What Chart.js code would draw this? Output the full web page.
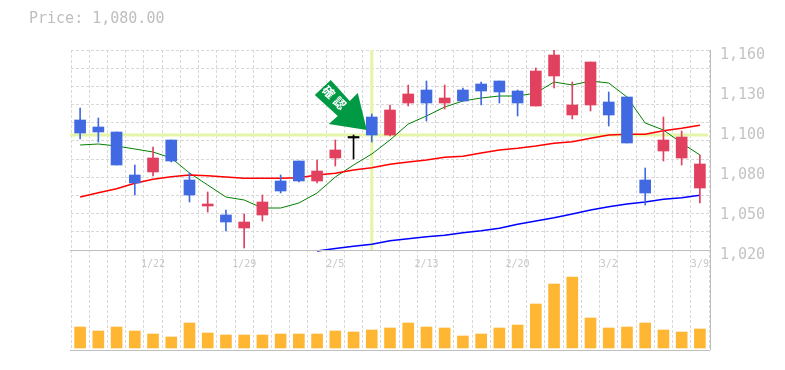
<!DOCTYPE html>
<html>
<head>
<meta charset="utf-8">
<style>body { margin: 0; background: #fff; }</style>
<script src="https://cdn.jsdelivr.net/npm/chart.js@4/dist/chart.umd.min.js"></script>
</head>
<body>
<canvas id="grafico" width="785" height="370"></canvas>
<script>
const xLabels = ["","","","","1/22","","","","","1/29","","","","","2/5","","","","","2/13","","","","","2/20","","","","","3/2","","","","","3/9"];
const open  = [1111,1106.1,1102.6,1072.5,1074.6,1097,1069,1050.8,1044.5,1035.4,1044.5,1068.3,1082.3,1068.3,1084.4,1098.4,1113.1,1100.5,1122.9,1132,1122.9,1132,1136.2,1138.3,1131.3,1120.8,1141.8,1114.5,1121.5,1123.6,1127.1,1069,1089.3,1084.4,1063.4];
const close = [1101.9,1102.6,1079.5,1066.9,1084.4,1082.3,1058.5,1052.2,1039.6,1039.6,1053.6,1061.3,1068.3,1075.3,1090,1098.4,1100.5,1118,1129.2,1122.9,1126.4,1124.3,1131.3,1130.6,1122.9,1145.3,1156.5,1121.5,1151.6,1114.5,1094.9,1059.9,1097,1099.1,1080.2];
const high  = [1119.4,1112.4,1102.6,1079.5,1092.1,1097,1073.9,1060.6,1048,1045.2,1058.5,1072.5,1082.3,1083,1097,1100.5,1115.2,1121.5,1135.5,1138.3,1135.5,1133.4,1137.6,1138.3,1132,1147.4,1160,1137.6,1151.6,1130.6,1127.1,1077.4,1113.1,1103.3,1086.5];
const low   = [1097.7,1095.6,1079.5,1058.5,1071.8,1081.6,1053.6,1046.6,1033.3,1021.4,1040.3,1059.9,1067.6,1066.9,1078.8,1083.7,1095.6,1099.8,1120.8,1110.3,1118.7,1124.3,1121.5,1122.9,1113.8,1120.8,1133.4,1111.7,1117.3,1106.8,1094.9,1051.5,1082.3,1079.5,1052.9];
const maCurta = [1093.5,1094.2,1092.8,1090.7,1088.6,1084.4,1073.9,1065.5,1057.1,1055,1049.4,1049.4,1052.9,1059.9,1071.1,1079.5,1087.2,1097,1108.2,1113.8,1120.1,1124.3,1126.4,1127.8,1127.8,1129.9,1137.6,1135.5,1138.3,1136.9,1127.1,1108.9,1104,1094.9,1086.5];
const maMedia = [1057.1,1060.1,1062.9,1066.7,1069.5,1071.3,1072.5,1072,1071.1,1070.2,1070.2,1070.2,1070.6,1072.5,1073.7,1076,1077.6,1080,1081.6,1083,1084.9,1085.6,1087.9,1090,1091.2,1092.8,1094.7,1095.8,1098.2,1100.5,1101,1101,1103.5,1105.2,1107.3];
const maLonga = [null,null,null,null,null,null,null,null,null,null,null,null,null,1019.3,1021,1022.6,1024,1026.5,1027.9,1029.3,1030.3,1032.1,1033.5,1035.2,1038,1040.3,1042.6,1045.2,1048,1050.3,1052.2,1053.6,1055.5,1056.6,1058.3];
const volume = [21,17,21,17,14,11,25,15,13,13,13,14,14,14,17,16,18,20,25,21,20,12,14,20,23,44,64,71,30,20,21,25,18,16,19];
const priceTicks = [1160,1132,1104,1076,1048,1020];
const priceLabels = ["1,160","1,130","1,100","1,080","1,050","1,020"];
const gridPrices = [1160,1147.27,1134.55,1121.82,1109.09,1096.36,1083.64,1070.91,1058.18,1045.45,1032.73,1020];
const titulo = "Price: 1,080.00";
const arrowText = ["確","認"];
const crossIndex = 16;
const crossPrice = 1100.5;

const AZUL = "#4169E1", VERMELHO = "#E2405F", PRETO = "#000000";
const cores = open.map((o, i) => o === close[i] ? PRETO : (close[i] > o ? VERMELHO : AZUL));

// crosshair, frame, arrow and price title
const extras = {
  id: "extras",
  beforeDatasetsDraw(chart) {
    const { ctx, chartArea, scales } = chart;
    const cx = scales.x.getPixelForValue(crossIndex);
    const cy = scales.y.getPixelForValue(crossPrice);
    const base = scales.y.getPixelForValue(1020);
    ctx.save();
    ctx.fillStyle = "#E4F5A8";
    ctx.fillRect(cx - 1.5, chartArea.top, 3, base - chartArea.top);
    ctx.fillRect(chartArea.left - 1, cy - 1.5, chartArea.right - chartArea.left, 3);
    ctx.restore();
  },
  afterDatasetsDraw(chart) {
    const { ctx, chartArea, scales } = chart;
    const base = scales.y.getPixelForValue(1020);
    ctx.save();
    ctx.strokeStyle = "#BEBEBE";
    ctx.lineWidth = 1;
    ctx.beginPath();
    ctx.moveTo(chartArea.left - 1, base + 0.5); ctx.lineTo(chartArea.right + 1, base + 0.5);
    ctx.moveTo(chartArea.left - 1, chartArea.bottom + 0.5); ctx.lineTo(chartArea.right + 1, chartArea.bottom + 0.5);
    ctx.moveTo(chartArea.right + 1.5, chartArea.top); ctx.lineTo(chartArea.right + 1.5, chartArea.bottom);
    ctx.stroke();

    // arrow points at the crosshair
    const tx = scales.x.getPixelForValue(crossIndex) - 5;
    const ty = scales.y.getPixelForValue(crossPrice) - 5;
    const forma = [[-36,-50],[-52,-35],[-29,-14],[-38,-6],[0,0],[-9,-37],[-17,-29]];
    ctx.fillStyle = "#009944";
    ctx.beginPath();
    forma.forEach((p, i) => i ? ctx.lineTo(tx + p[0], ty + p[1]) : ctx.moveTo(tx + p[0], ty + p[1]));
    ctx.closePath();
    ctx.fill();
    ctx.fillStyle = "#fff";
    ctx.font = "bold 12px 'Noto Sans CJK JP'";
    ctx.textAlign = "center";
    ctx.textBaseline = "middle";
    arrowText.forEach((t, i) => {
      ctx.save();
      ctx.translate(tx - 38 + i * 11, ty - 38 + i * 11);
      ctx.rotate(Math.PI / 4);
      ctx.fillText(t, 0, 0);
      ctx.restore();
    });

    ctx.fillStyle = "#BEBEBE";
    ctx.font = "15px 'DejaVu Sans Mono'";
    ctx.textAlign = "left";
    ctx.fillText(titulo, 29, 19);
    ctx.restore();
  }
};

const ctx = document.getElementById("grafico").getContext("2d");
const myChart = new Chart(ctx, {
  type: "bar",
  plugins: [extras],
  data: {
    labels: xLabels,
    datasets: [
      { type: "line", label: "MA curta", data: maCurta, borderColor: "#008000", borderWidth: 1, pointRadius: 0, tension: 0, yAxisID: "y", order: 5 },
      { type: "line", label: "MA media", data: maMedia, borderColor: "#FF0000", borderWidth: 1.5, pointRadius: 0, tension: 0, yAxisID: "y", order: 4 },
      { type: "line", label: "MA longa", data: maLonga, borderColor: "#0000FF", borderWidth: 1.5, pointRadius: 0, tension: 0, yAxisID: "y", order: 3 },
      { label: "Pavio", data: high.map((h, i) => [low[i], h]), backgroundColor: cores, barThickness: 1, yAxisID: "y", order: 2 },
      { label: "Corpo", data: open.map((o, i) => [o, close[i]]), backgroundColor: cores, barThickness: 11, minBarLength: 1.5, yAxisID: "y", order: 1 },
      { label: "Volume", data: volume, backgroundColor: "#FFB733", barThickness: 11, yAxisID: "yVol", order: 1 },
    ],
  },
  options: {
    responsive: false,
    animation: false,
    grouped: false,
    layout: { padding: { left: 71, top: 50, right: 0, bottom: 20 } },
    plugins: { legend: { display: false }, title: { display: false }, tooltip: { enabled: false } },
    scales: {
      x: {
        position: { y: 1020 },
        offset: true,
        grid: { offset: true, color: "#D8D8D8", drawTicks: false },
        border: { display: false, dash: [3, 2] },
        ticks: { autoSkip: false, maxRotation: 0, color: "#C8C8C8", padding: 8, font: { family: "DejaVu Sans Mono", size: 10 } },
      },
      y: {
        position: "right",
        min: 950,
        max: 1160,
        afterBuildTicks: (axis) => { axis.ticks = gridPrices.map((v) => ({ value: v })); },
        grid: { color: "#D8D8D8", drawTicks: false },
        border: { display: false, dash: [3, 2] },
        ticks: { display: false },
        afterFit: (axis) => { axis.width = 0; },
      },
      yLabels: {
        position: "right",
        min: 950,
        max: 1160,
        afterBuildTicks: (axis) => { axis.ticks = priceTicks.map((v) => ({ value: v })); },
        grid: { display: false, drawTicks: false },
        border: { display: false },
        ticks: {
          color: "#C4C4C4",
          padding: 11,
          labelOffset: 5,
          font: { family: "DejaVu Sans Mono", size: 15 },
          callback: (v) => priceLabels[priceTicks.indexOf(v)],
        },
        afterFit: (axis) => { axis.width = 76; },
      },
      yVol: { display: false, min: -2, max: 298 },
    },
  },
});
</script>
</body>
</html>
